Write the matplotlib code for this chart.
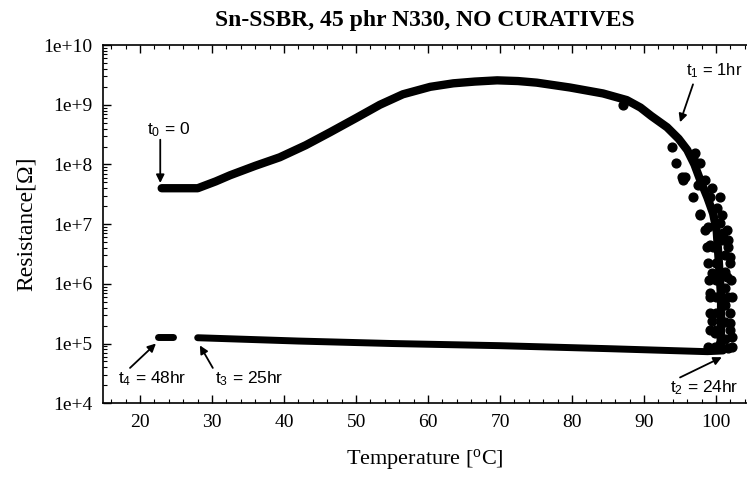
import numpy as np
import matplotlib
matplotlib.use("Agg")
from matplotlib import pyplot as plt
from matplotlib.ticker import MultipleLocator, LogLocator, FuncFormatter, NullFormatter

plt.rcParams['mathtext.default'] = 'regular'

# heating run, t0 -> t1 -> t2
heat_T = [23.0, 28.0, 30.5, 32.5, 36.0, 39.4, 43.0, 46.4, 50.0, 53.3, 56.5, 60.3, 63.5, 66.5, 69.6,
          72.5, 75.1, 79.7, 84.3, 87.6, 89.5, 91.0, 93.2, 94.8, 96.0, 97.0, 97.8, 98.8, 99.6,
          100.1, 100.4, 100.7, 100.7, 100.6]
heat_R = [4.0e7, 4.0e7, 5.2e7, 6.6e7, 9.5e7, 1.32e8, 2.1e8, 3.47e8, 6.0e8, 1.0e9, 1.5e9, 2.0e9, 2.29e9, 2.45e9, 2.57e9,
          2.5e9, 2.35e9, 1.95e9, 1.55e9, 1.2e9, 9.0e8, 6.5e8, 4.2e8, 2.7e8, 1.75e8, 1.0e8, 5.5e7, 2.8e7, 1.5e7,
          7.5e6, 2.2e6, 6.0e5, 1.7e5, 8.0e4]

# noisy points in the drop near 100 C
noise_T = [87.1, 93.9, 96.8, 95.3, 97.1, 95.7, 97.5, 99.4, 99.2, 100.1, 97.8, 98.9, 100.6, 101.0, 101.7,
           99.2, 101.9, 99.4, 101.5, 99.2, 101.7, 101.0, 99.4, 101.9, 99.9, 102.2, 100.6, 101.7,
           94.4, 97.8, 95.4, 98.5, 96.8, 100.6, 97.8, 100.8, 98.5, 101.5, 98.75, 101.7, 98.9, 101.9,
           99.0, 102.1, 99.2, 102.2, 99.2, 101.9, 99.2, 101.9, 98.9, 102.2,
           100.0, 101.3, 100.0, 101.3, 100.0, 101.3, 100.0, 101.3, 100.0, 101.3, 99.9, 101.3, 99.6, 101.0]
noise_R = [9.8e8, 1.95e8, 1.3e8, 6.2e7, 1.55e8, 6.2e7, 4.5e7, 4.0e7, 2.8e7, 1.9e7, 1.5e7, 8.9e6, 1.05e7, 7.0e6, 5.4e6,
           4.4e6, 2.8e6, 1.5e6, 1.3e6, 6.9e5, 6.0e5, 4.4e5, 2.4e5, 2.2e5, 1.5e5, 1.3e5, 1.0e5, 8.3e4,
           1.05e8, 1.05e8, 5.5e7, 5.5e7, 2.8e7, 2.8e7, 1.4e7, 1.4e7, 7.9e6, 7.9e6, 4.1e6, 4.1e6, 2.2e6, 2.2e6,
           1.16e6, 1.16e6, 6.0e5, 6.0e5, 3.2e5, 3.2e5, 1.66e5, 1.66e5, 8.7e4, 8.7e4,
           2.2e6, 3.0e6, 1.16e6, 1.6e6, 6.0e5, 8.5e5, 3.2e5, 4.5e5, 1.66e5, 2.3e5, 8.7e4, 1.2e5, 4.1e6, 5.5e6]

# cooling run, t2 -> t3
cool_T = [101.0, 98.8, 85.0, 70.0, 55.0, 42.0, 28.0]
cool_R = [7.5e4, 7.3e4, 8.2e4, 9.2e4, 1.0e5, 1.1e5, 1.25e5]

# t4 reading
t4_T = [22.5, 24.6]
t4_R = [1.3e5, 1.3e5]

fig = plt.figure(figsize=(7.47, 4.80), dpi=100)
ax = fig.add_axes([0.138, 0.160, 0.862, 0.746])

ax.plot(heat_T, heat_R, color='black', lw=6, solid_capstyle='round', solid_joinstyle='round')
ax.scatter(noise_T, noise_R, s=40, color='black', zorder=3)
ax.plot(cool_T, cool_R, color='black', lw=5, solid_capstyle='round')
ax.plot(t4_T, t4_R, color='black', lw=5, solid_capstyle='round')

ax.set_yscale('log')
ax.set_ylim(1e4, 1e10)

serif = 'Liberation Serif'
sans = 'Liberation Sans'

ax.xaxis.set_major_locator(MultipleLocator(10))
ax.xaxis.set_minor_locator(MultipleLocator(2))
ax.yaxis.set_major_locator(LogLocator(base=10, numticks=10))
ax.yaxis.set_minor_locator(LogLocator(base=10, subs=np.arange(2, 10), numticks=10))
ax.yaxis.set_major_formatter(FuncFormatter(lambda v, _: "1e+%d" % int(round(np.log10(v)))))
ax.yaxis.set_minor_formatter(NullFormatter())
ax.set_xticks(range(20, 101, 10))
ax.set_xlim(14.86, 104.3)

ax.tick_params(which='both', direction='in', top=True, right=False)
ax.tick_params(which='major', length=6, width=1)
ax.tick_params(which='minor', length=3, width=0.8)
ax.tick_params(axis='y', which='major', pad=8)
ax.tick_params(axis='x', which='major', pad=8)
for lab in ax.get_xticklabels() + ax.get_yticklabels():
    lab.set_fontfamily(serif)
    lab.set_fontsize(14)
for sp in ax.spines.values():
    sp.set_linewidth(1.2)
ax.spines['right'].set_visible(False)

ax.set_title('Sn-SSBR, 45 phr N330, NO CURATIVES', fontfamily=serif, fontweight='bold',
             fontsize=17, pad=14)
ax.set_ylabel('Resistance[Ω]', fontfamily=serif, fontsize=17, labelpad=4)
ax.set_xlabel('Temperature [$^{o}$C]', fontfamily=serif, fontsize=16, labelpad=11)

arrow = dict(arrowstyle='-|>', color='black', lw=1.3, mutation_scale=12, shrinkA=0, shrinkB=0)
fs = 12.5

ax.annotate('', xy=(22.8, 4.9e7), xytext=(22.8, 2.6e8), arrowprops=arrow)
ax.text(23.9, 3.9e8, 't$_0$ = 0', fontfamily=sans, fontsize=fs, ha='center', va='center')

ax.annotate('', xy=(95.0, 5.1e8), xytext=(96.8, 2.2e9), arrowprops=arrow)
ax.text(95.8, 3.8e9, 't$_1$ = 1hr', fontfamily=sans, fontsize=12, ha='left', va='center')

ax.annotate('', xy=(100.8, 5.9e4), xytext=(95.0, 2.7e4), arrowprops=arrow)
ax.text(93.6, 1.85e4, 't$_2$ = 24hr', fontfamily=sans, fontsize=fs, ha='left', va='center')

ax.annotate('', xy=(28.3, 9.3e4), xytext=(30.1, 3.9e4), arrowprops=arrow)
ax.text(30.4, 2.6e4, 't$_3$ = 25hr', fontfamily=sans, fontsize=fs, ha='left', va='center')

ax.annotate('', xy=(22.2, 1.0e5), xytext=(18.6, 3.9e4), arrowprops=arrow)
ax.text(16.9, 2.6e4, 't$_4$ = 48hr', fontfamily=sans, fontsize=fs, ha='left', va='center')

fig.savefig('out.png', dpi=100)
